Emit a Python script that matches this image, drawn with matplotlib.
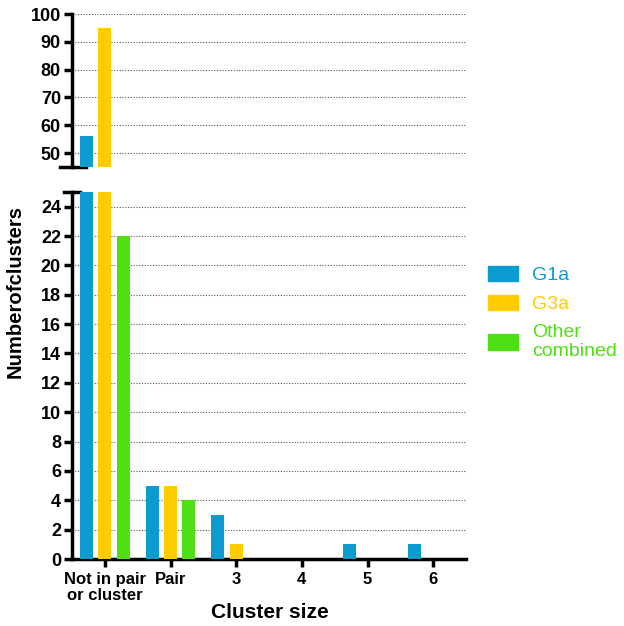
import matplotlib
matplotlib.use('Agg')
import matplotlib.pyplot as plt
import numpy as np

plt.rcParams['font.family'] = ['Liberation Sans', 'DejaVu Sans']

categories = ['Not in pair\nor cluster', 'Pair', '3', '4', '5', '6']
g1a = [56, 5, 3, 0, 1, 1]
g3a = [95, 5, 1, 0, 0, 0]
other = [22, 4, 0, 0, 0, 0]
series_names = ['G1a', 'G3a', 'Other\ncombined']
colors = ['#0a9bd0', '#ffcc00', '#4ee012']

fig = plt.figure(figsize=(6.24, 6.26), dpi=100)
ax_top = fig.add_axes([0.1154, 0.7332, 0.6314, 0.2444])
ax_bot = fig.add_axes([0.1154, 0.1070, 0.6314, 0.5863])

x = np.arange(len(categories))
w = 0.2
off = 0.28
for ax in (ax_top, ax_bot):
    for i, (vals, c) in enumerate(zip([g1a, g3a, other], colors)):
        ax.bar(x + (i - 1) * off, vals, width=w, color=c, zorder=3)
    ax.set_xlim(-0.5, 5.5)
    ax.spines['top'].set_visible(False)
    ax.spines['right'].set_visible(False)
    ax.spines['left'].set_linewidth(2.5)
    ax.spines['bottom'].set_linewidth(2.5)
    ax.yaxis.grid(True, linestyle=(0, (1, 1.5)), color='#555555', linewidth=0.8, zorder=0)
    ax.tick_params(axis='y', width=2.5, length=6, labelsize=13, pad=2)

ax_top.set_ylim(45, 100)
ax_top.set_yticks([50, 60, 70, 80, 90, 100])
ax_top.spines['bottom'].set_visible(False)
ax_top.set_xticks([])
ax_top.plot([-0.03, 0.035], [0, 0], transform=ax_top.transAxes, color='black',
            lw=2.5, clip_on=False)

ax_bot.set_ylim(0, 25)
ax_bot.set_yticks(range(0, 25, 2))
ax_bot.plot([-0.02, 0.02], [1, 1], transform=ax_bot.transAxes, color='black',
            lw=2.5, clip_on=False)
ax_bot.set_xticks(x)
ax_bot.set_xticklabels(categories, fontweight='bold', fontsize=12, linespacing=1.15)
ax_bot.tick_params(axis='x', width=2.5, length=6, pad=3)

for ax in (ax_top, ax_bot):
    for lab in ax.get_yticklabels():
        lab.set_fontweight('bold')

fig.text(0.433, 0.0128, 'Cluster size', fontsize=15, fontweight='bold',
         ha='center', va='baseline')
fig.text(0.024, 0.535, 'Numberofclusters', rotation=90, fontsize=14.6,
         fontweight='bold', ha='center', va='center')

# legend
handles = [plt.Rectangle((0, 0), 1, 1, color=c) for c in colors]
leg = fig.legend(handles, series_names, loc='center left',
                 bbox_to_anchor=(0.782, 0.50), frameon=False, fontsize=14,
                 handlelength=1.55, handleheight=0.85, handletextpad=0.7,
                 labelspacing=0.55, borderpad=0, borderaxespad=0)
for t, c in zip(leg.get_texts(), colors):
    t.set_color(c)

fig.savefig('out.png', dpi=100)
